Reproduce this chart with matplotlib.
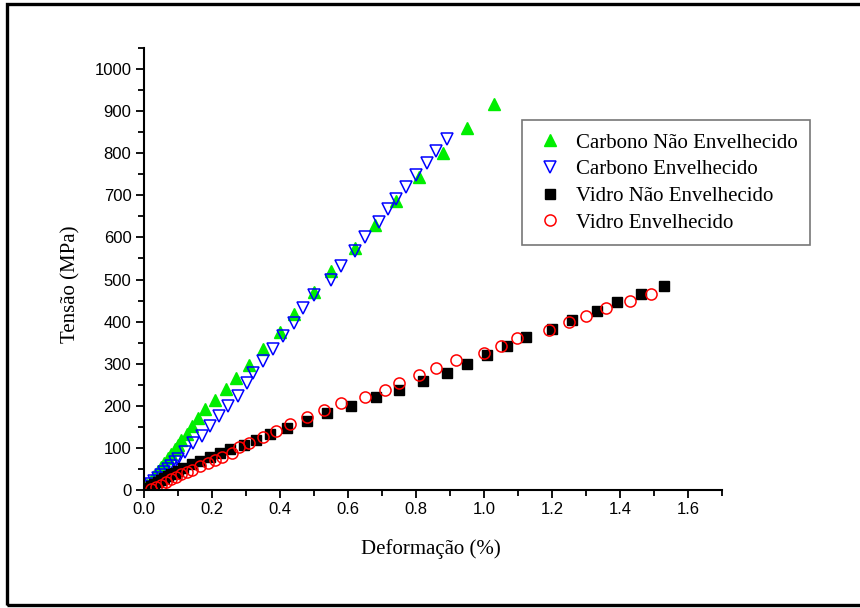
import numpy as np
import matplotlib
matplotlib.use("Agg")
import matplotlib.pyplot as plt
from matplotlib.patches import Rectangle
from matplotlib.ticker import MultipleLocator

# Carbono Nao Envelhecido (green up triangles)
x_cne = [0.0, 0.01, 0.02, 0.03, 0.04, 0.05, 0.06, 0.07, 0.08, 0.09, 0.10, 0.11,
         0.125, 0.14, 0.16, 0.18, 0.21, 0.24, 0.27, 0.31, 0.35, 0.40, 0.44, 0.50,
         0.55, 0.62, 0.68, 0.74, 0.81, 0.88, 0.95, 1.03]
y_cne = [0, 11, 22, 33, 44, 54, 64, 75, 86, 97, 108, 118,
         134, 151, 172, 192, 214, 239, 267, 298, 334, 375, 419, 471,
         521, 575, 630, 686, 744, 800, 860, 916]

# Carbono Envelhecido (blue open down triangles)
x_ce = [0.0, 0.01, 0.02, 0.03, 0.04, 0.05, 0.06, 0.07, 0.08, 0.09, 0.10, 0.121,
        0.145, 0.17, 0.194, 0.222, 0.248, 0.275, 0.303, 0.32, 0.35, 0.379, 0.41,
        0.44, 0.469, 0.501, 0.55, 0.58, 0.62, 0.65, 0.69, 0.719, 0.74, 0.77,
        0.80, 0.831, 0.86, 0.89]
y_ce = [0, 7, 14, 21, 29, 36, 43, 50, 58, 66, 74, 91,
        111, 129, 151, 175, 200, 224, 254, 279, 307, 335, 367,
        397, 432, 464, 498, 532, 567, 602, 636, 668, 692, 720,
        748, 776, 805, 835]

# Vidro Nao Envelhecido (black squares)
x_vne = [0.0, 0.01, 0.02, 0.03, 0.04, 0.05, 0.06, 0.07, 0.08, 0.09, 0.10, 0.116,
         0.14, 0.165, 0.194, 0.224, 0.253, 0.293, 0.33, 0.371, 0.42, 0.479,
         0.538, 0.609, 0.681, 0.749, 0.821, 0.89, 0.951, 1.01, 1.069, 1.123,
         1.201, 1.26, 1.331, 1.391, 1.461, 1.53]
y_vne = [0, 5, 10, 15, 19, 24, 28, 33, 37, 41, 46, 53,
         62, 70, 79, 87, 97, 107, 119, 133, 147, 163,
         182, 200, 220, 238, 260, 279, 300, 321, 343, 364,
         383, 405, 425, 446, 466, 484]

# Vidro Envelhecido (red open circles)
x_ve = [0.02, 0.035, 0.05, 0.065, 0.08, 0.095, 0.11, 0.125, 0.14, 0.165, 0.187,
        0.209, 0.229, 0.258, 0.28, 0.309, 0.349, 0.388, 0.43, 0.479, 0.53, 0.58,
        0.65, 0.71, 0.749, 0.808, 0.859, 0.919, 1.0, 1.049, 1.098, 1.191, 1.25,
        1.301, 1.36, 1.43, 1.491]
y_ve = [2, 6, 12, 19, 25, 31, 37, 42, 48, 56, 63,
        71, 79, 89, 103, 111, 127, 140, 156, 173, 190, 206,
        222, 238, 255, 273, 290, 308, 325, 343, 361, 380, 398,
        414, 432, 450, 466]

labels = ["Carbono Não Envelhecido", "Carbono Envelhecido",
          "Vidro Não Envelhecido", "Vidro Envelhecido"]

fig = plt.figure(figsize=(8.6, 6.08), dpi=100)
ax = fig.add_axes([144/860, 1-490/608, (722-144)/860, (490-48)/608])

ax.plot(x_cne, y_cne, ls="none", marker="^", ms=9, color="#00ee00",
        mec="#00ee00", label=labels[0])
ax.plot(x_ce, y_ce, ls="none", marker="v", ms=9, mfc="none", mec="#0000ff",
        mew=1.1, label=labels[1])
ax.plot(x_vne, y_vne, ls="none", marker="s", ms=6.8, color="black",
        label=labels[2])
ax.plot(x_ve, y_ve, ls="none", marker="o", ms=8, mfc="none", mec="#ff0000",
        mew=1.1, label=labels[3])

ax.set_xlim(0, 1.7)
ax.set_ylim(0, 1050)
ax.xaxis.set_major_locator(MultipleLocator(0.2))
ax.xaxis.set_minor_locator(MultipleLocator(0.1))
ax.yaxis.set_major_locator(MultipleLocator(100))
ax.yaxis.set_minor_locator(MultipleLocator(50))
ax.xaxis.set_major_formatter(matplotlib.ticker.FormatStrFormatter("%.1f"))

for s in ["top", "right"]:
    ax.spines[s].set_visible(False)
for s in ["left", "bottom"]:
    ax.spines[s].set_linewidth(1.5)
ax.tick_params(which="major", direction="out", length=6, width=1.3,
               labelsize=12, pad=3)
ax.tick_params(which="minor", direction="out", length=4, width=1.3)
for lab in ax.get_xticklabels() + ax.get_yticklabels():
    lab.set_family("Liberation Sans")

ax.set_xlabel("Deformação (%)", family="Liberation Serif", fontsize=15)
ax.xaxis.set_label_coords((431-144)/578, (490-539)/442)
ax.set_ylabel("Tensão (MPa)", family="Liberation Serif", fontsize=15)
ax.yaxis.set_label_coords((80-144)/578, (490-284)/442)

leg = ax.legend(loc="upper left", bbox_to_anchor=((522-144)/578, (490-120)/442),
                prop={"family": "Liberation Serif", "size": 15},
                frameon=True, fancybox=False, edgecolor="#555555",
                borderpad=0.62, labelspacing=0.34, handletextpad=0.55,
                handlelength=1.4, borderaxespad=0)
leg.get_frame().set_linewidth(1.2)

# outer frame (right side cut off like the original)
fig.add_artist(Rectangle((7/860, 1-605/608), 1.2, (605-4)/608,
                         transform=fig.transFigure, fill=False,
                         lw=2.4, ec="black", clip_on=False))

fig.savefig("out.png", dpi=100)
